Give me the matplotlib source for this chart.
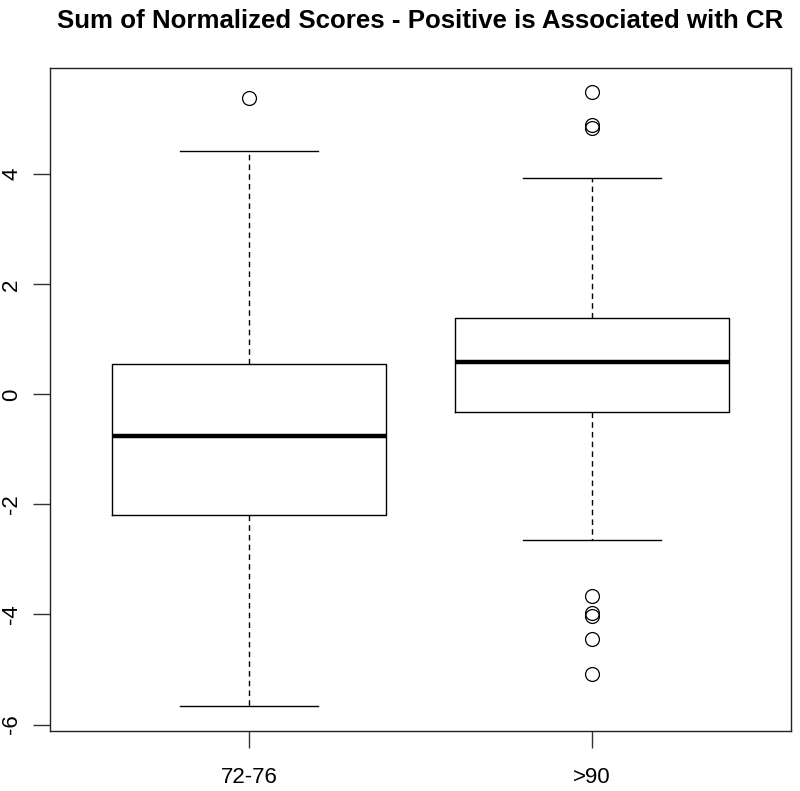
import matplotlib
matplotlib.use("Agg")
import matplotlib.pyplot as plt

# values
categories = ['72-76', '>90']
medians = [-0.76, 0.58]
q1 = [-2.19, -0.32]
q3 = [0.56, 1.39]
whislo = [-5.67, -2.64]
whishi = [4.42, 3.94]
fliers = [
    [5.38],
    [5.49, 4.89, 4.84, -3.67, -3.97, -4.02, -4.44, -5.09],
]
yticks = [-6, -4, -2, 0, 2, 4]

plt.rcParams['font.family'] = ['Liberation Sans', 'DejaVu Sans']

stats = []
for i, name in enumerate(categories):
    stats.append(dict(label=name, med=medians[i], q1=q1[i], q3=q3[i],
                      whislo=whislo[i], whishi=whishi[i], fliers=fliers[i]))

fig = plt.figure(figsize=(8.0, 7.91), dpi=100)
ax = fig.add_axes([0.0625, 0.0759, 0.92625, 0.8385])

ax.bxp(stats, positions=[1, 2], widths=0.8, showfliers=True,
       boxprops=dict(color='black', linewidth=1.0),
       medianprops=dict(color='black', linewidth=3.2, solid_capstyle='butt'),
       whiskerprops=dict(color='black', linewidth=1.0, linestyle=(0, (4, 3))),
       capprops=dict(color='black', linewidth=1.0),
       capwidths=0.4,
       flierprops=dict(marker='o', markerfacecolor='none', markeredgecolor='black',
                       markersize=10, markeredgewidth=0.9, linestyle='none'))

# R style extents: 4% padding around data range
lo = min(min(whislo), min(min(f) for f in fliers))
hi = max(max(whishi), max(max(f) for f in fliers))
pad = (hi - lo) * 0.04
ax.set_ylim(lo - pad, hi + pad)
ax.set_xlim(0.5 - 0.08, 2.5 + 0.08)

ax.set_yticks(yticks)
ax.set_yticklabels([str(v) for v in yticks], rotation=90, va='center', fontsize=16)
ax.set_xticks([1, 2])
ax.set_xticklabels(categories, fontsize=16)
ax.tick_params(axis='both', direction='out', length=12, width=1.0, color='#333333')
ax.tick_params(axis='x', pad=14)
ax.tick_params(axis='y', pad=8)
for s in ax.spines.values():
    s.set_linewidth(1.0)
    s.set_color('#222222')

fig.text(0.5256, 0.973, 'Sum of Normalized Scores - Positive is Associated with CR',
         ha='center', va='center', fontsize=18.6, fontweight='bold')

fig.savefig('out.png', dpi=100)
